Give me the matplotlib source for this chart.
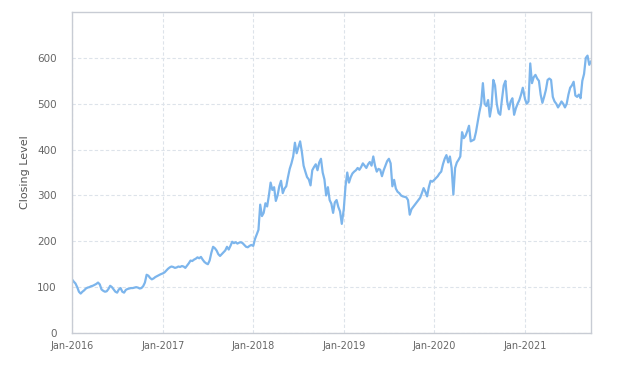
import pandas as pd
import numpy as np
import matplotlib
matplotlib.use("Agg")
import matplotlib.pyplot as plt
import matplotlib.dates as mdates

# weekly closing levels
close_2016 = [117, 112, 108, 100, 90, 86, 90, 93, 97, 99, 100, 102, 103, 105, 107, 110,
              106, 95, 92, 90, 91, 96, 103, 100, 95, 90, 88, 95, 98, 90, 88, 94, 96, 97,
              98, 98, 99, 100, 99, 97, 98, 102, 110, 127, 125, 120, 117, 119, 122, 124,
              126, 128]
close_2017 = [130, 132, 136, 140, 143, 145, 144, 142, 143, 145, 144, 146, 145, 142, 147,
              152, 158, 157, 160, 162, 165, 163, 166, 160, 155, 152, 150, 158, 175, 188,
              185, 180, 172, 168, 172, 176, 180, 188, 182, 190, 199, 196, 198, 195, 197,
              198, 196, 192, 188, 187, 190, 192]
close_2018 = [190, 205, 215, 225, 280, 255, 262, 283, 276, 300, 328, 312, 318, 288, 300,
              320, 332, 305, 315, 320, 340, 358, 370, 385, 415, 392, 405, 418, 395, 365,
              352, 340, 335, 322, 355, 362, 368, 355, 372, 380, 350, 335, 300, 318, 290,
              282, 262, 285, 290, 275, 265, 238]
close_2019 = [270, 320, 350, 328, 340, 348, 352, 355, 360, 356, 362, 370, 365, 360, 368,
              373, 365, 385, 365, 352, 358, 356, 342, 355, 365, 375, 380, 370, 320, 334,
              315, 308, 305, 300, 298, 297, 296, 290, 258, 270, 275, 280, 285, 290, 295,
              305, 316, 308, 298, 318, 332, 330]
close_2020 = [334, 338, 342, 348, 352, 368, 380, 388, 372, 385, 360, 302, 360, 372, 378,
              385, 438, 425, 430, 440, 452, 418, 420, 422, 438, 460, 482, 500, 545, 500,
              495, 508, 472, 495, 552, 540, 500, 480, 476, 510, 540, 550, 505, 488, 505,
              512, 476, 490, 500, 508, 520, 535]
close_2021 = [510, 500, 505, 588, 545, 558, 563, 555, 550, 520, 502, 515, 530, 552, 555,
              552, 515, 505, 500, 492, 498, 505, 500, 492, 500, 520, 535, 540, 548, 518,
              515, 520, 512, 550, 565, 600, 605, 585, 592]

years = [2016, 2017, 2018, 2019, 2020, 2021]
values = [close_2016, close_2017, close_2018, close_2019, close_2020, close_2021]

parts = []
for yr, vals in zip(years, values):
    idx = pd.date_range(f"{yr}-01-01", periods=len(vals), freq="7D")
    parts.append(pd.Series(vals, index=idx))
series = pd.concat(parts)

fig = plt.figure(figsize=(6.31, 3.66), dpi=100)
ax = fig.add_axes([0.1141, 0.0902, 0.8225, 0.8768])

ax.plot(series.index, series.values, color="#7cb5ec", linewidth=1.6)

ax.set_xlim(pd.Timestamp("2016-01-01"), series.index[-1])
ax.set_ylim(0, 700)
ax.set_yticks([0, 100, 200, 300, 400, 500, 600])
ax.xaxis.set_major_locator(mdates.YearLocator())
ax.xaxis.set_major_formatter(mdates.DateFormatter("%b-%Y"))

ax.grid(True, color="#dde3ea", linestyle=(0, (3, 2)), linewidth=0.8)
ax.set_axisbelow(True)
for s in ax.spines.values():
    s.set_color("#c8ccd4")
    s.set_linewidth(1)

ax.tick_params(axis="x", length=0, pad=6, labelsize=7, labelcolor="#666666")
ax.tick_params(axis="y", length=0, pad=11, labelsize=7.5, labelcolor="#666666")
ax.set_ylabel("Closing Level", fontsize=8, color="#555555", labelpad=5)

plt.savefig("out.png", dpi=100)
